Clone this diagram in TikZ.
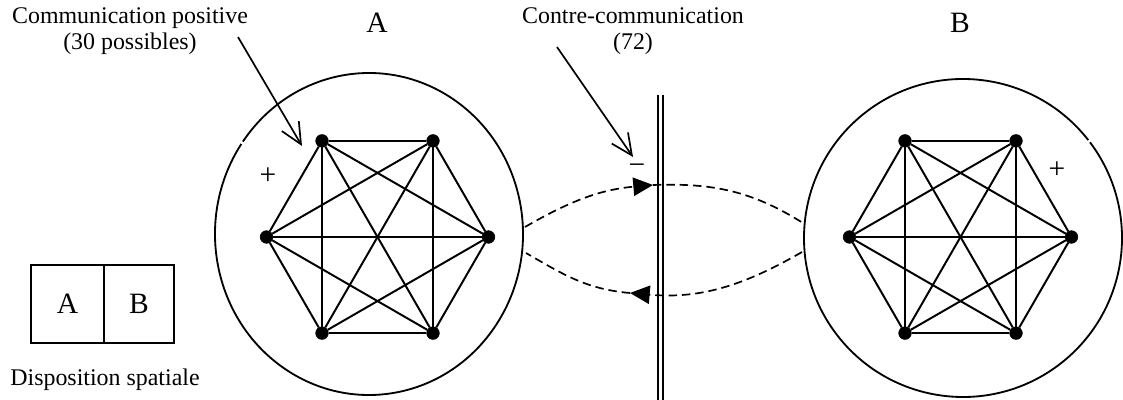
\documentclass[tikz,border=0pt]{standalone}
\usepackage{fontspec}
\setmainfont{Liberation Serif}
\usetikzlibrary{arrows.meta,positioning}

\begin{document}
\begin{tikzpicture}
[x=.025cm,y=.025cm,
    person/.style={draw,fill,shape=circle,inner sep=0pt,minimum size=9pt},
    link/.style={line width=1.4pt},
    rim/.style={line width=1.3pt},
    lab/.style={font=\fontsize{17}{18.5}\selectfont,align=center,inner sep=1pt},
    letter/.style={font=\fontsize{21}{24}\selectfont,inner sep=0pt},
    cell/.style={draw,line width=1.3pt,minimum height=1.95cm,inner sep=0pt,outer sep=0pt,font=\fontsize{21}{24}\selectfont},
    pointer/.style={-{Straight Barb[length=15pt,width=14pt]},line width=1.2pt},
    dashflow/.style={dash pattern=on 6pt off 3.5pt,line width=1.2pt},
    arrowflow/.style={-{Triangle[length=14pt,width=13pt]}},
    screen/.style={double,double distance=2.3pt,line width=1.1pt}]
\useasboundingbox (0,0) rectangle (1123,400);
%%%%%%%%%%
%%%%% group A
\begin{scope}[shift={(377.5,163)}]
\node (a1) [person] at (120:111) {};
\node (a2) [person] at (60:111) {};
\node (a3) [person] at (0:111) {};
\node (a4) [person] at (300:111) {};
\node (a5) [person] at (240:111) {};
\node (a6) [person] at (180:111) {};
%% all pairs
\draw[link] (a1) -- (a2);
\draw[link] (a1) -- (a3);
\draw[link] (a1) -- (a4);
\draw[link] (a1) -- (a5);
\draw[link] (a1) -- (a6);
\draw[link] (a2) -- (a3);
\draw[link] (a2) -- (a4);
\draw[link] (a2) -- (a5);
\draw[link] (a2) -- (a6);
\draw[link] (a3) -- (a4);
\draw[link] (a3) -- (a5);
\draw[link] (a3) -- (a6);
\draw[link] (a4) -- (a5);
\draw[link] (a4) -- (a6);
\draw[link] (a5) -- (a6);
%% boundary of the group
\draw[rim] (-8.5,3) ++(146:154 and 161) arc[start angle=146,end angle=505,x radius=154,y radius=161];
\node (plusA) [letter] at (-109.5,61) {+};
\end{scope}
%%%%% group B
\begin{scope}[shift={(960.5,163)}]
\node (b1) [person] at (120:111) {};
\node (b2) [person] at (60:111) {};
\node (b3) [person] at (0:111) {};
\node (b4) [person] at (300:111) {};
\node (b5) [person] at (240:111) {};
\node (b6) [person] at (180:111) {};
%% all pairs
\draw[link] (b1) -- (b2);
\draw[link] (b1) -- (b3);
\draw[link] (b1) -- (b4);
\draw[link] (b1) -- (b5);
\draw[link] (b1) -- (b6);
\draw[link] (b2) -- (b3);
\draw[link] (b2) -- (b4);
\draw[link] (b2) -- (b5);
\draw[link] (b2) -- (b6);
\draw[link] (b3) -- (b4);
\draw[link] (b3) -- (b5);
\draw[link] (b3) -- (b6);
\draw[link] (b4) -- (b5);
\draw[link] (b4) -- (b6);
\draw[link] (b5) -- (b6);
%% boundary of the group
\draw[rim] (2.5,-1) ++(38:159) arc[start angle=38,end angle=397,radius=159];
\node (plusB) [letter] at (96.5,67) {+};
\end{scope}
%%%%% titles
\node (ta) [letter] at (377,377) {A};
\node (tb) [letter] at (960,377) {B};
\node (compos) [lab] at (130,369) {Communication positive\\(30 possibles)};
\node (contre) [lab] at (633,369) {Contre-communication\\(72)};
%% pointers
\coordinate (posTail) at (238,363);
\coordinate (posHead) at (302,254);
\coordinate (contreTail) at (557,353);
\coordinate (contreHead) at (633,243);
\draw[pointer] (posTail) -- (posHead);
\draw[pointer] (contreTail) -- (contreHead);
%%%%% the screen and the exchanges through it
\coordinate (wallTop) at (660.5,305);
\coordinate (wallBot) at (660.5,0);
\draw[screen] (wallTop) -- (wallBot);
\node (minus) [letter] at (637,231) {−};
\coordinate (aTop) at (525,173);
\coordinate (topHit) at (653,215);
\coordinate (bTop) at (803,177);
\coordinate (aBot) at (526,147);
\coordinate (botHit) at (630,107);
\coordinate (bBot) at (802,148);
\draw[dashflow,arrowflow] (aTop) to[out=30,in=185] (topHit);
\draw[dashflow] (topHit) to[out=2,in=148] (bTop);
\draw[dashflow,arrowflow] (bBot) to[out=210,in=-5] (botHit);
\draw[dashflow] (botHit) to[out=175,in=-30] (aBot);
%%%%% room layout
\node (cellA) [cell,minimum width=1.825cm] at (67.5,96) {A};
\node (cellB) [cell,minimum width=1.75cm,right=0pt of cellA] {B};
\node (disp) [lab] at (105,20) {Disposition spatiale};
\end{tikzpicture}
\end{document}
